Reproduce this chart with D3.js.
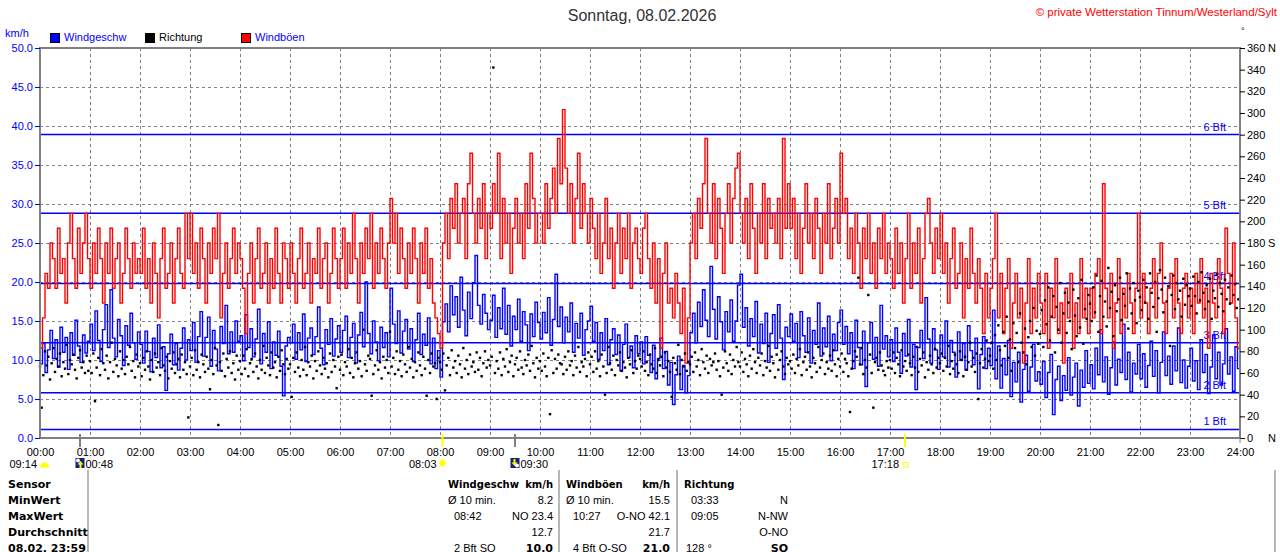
<!DOCTYPE html>
<html>
<head>
<meta charset="utf-8">
<script src="https://cdn.jsdelivr.net/npm/d3@7"></script>
<style>
  body { margin: 0; background: #fff; }
  text { font-family: "Liberation Sans", Arial, sans-serif; }
  .bold { font-family: "DejaVu Sans", sans-serif; font-weight: bold; }
</style>
</head>
<body>
<svg id="chart" width="1280" height="552"></svg>
<script>
// values
var titleText = "Sonntag, 08.02.2026";
var copyrightText = "\u00a9 private Wetterstation Tinnum/Westerland/Sylt";
var hourLabels = ["00:00","01:00","02:00","03:00","04:00","05:00","06:00","07:00","08:00","09:00","10:00","11:00",
                  "12:00","13:00","14:00","15:00","16:00","17:00","18:00","19:00","20:00","21:00","22:00","23:00","24:00"];
var kmhTicks = [0,5,10,15,20,25,30,35,40,45,50];
var dirTicks = [0,20,40,60,80,100,120,140,160,180,200,220,240,260,280,300,320,340,360];
var dirLetterTicks = [0,180,360];
var dirLetters = ["N","S","N"];
var bftLimits = [1.1,5.8,12.2,19.8,28.8,38.9];
var bftNames = ["1 Bft","2 Bft","3 Bft","4 Bft","5 Bft","6 Bft"];
var legendNames = ["Windgeschw","Richtung","Windb\u00f6en"];

// one value every 3 minutes (20 per hour), last one at 24:00
var gustStep = 3;
var gustKmh = [
 11.5,15.4,21.1,19.2,25.0,23.0,19.2,26.9,21.1,23.0,17.3,25.0,28.8,23.0,19.2,26.9,21.1,25.0,28.8,23.0,
 19.2,25.0,21.1,26.9,23.0,17.3,25.0,21.1,26.9,19.2,23.0,25.0,17.3,21.1,26.9,23.0,19.2,25.0,21.1,23.0,
 21.1,26.9,19.2,23.0,17.3,25.0,21.1,15.4,23.0,26.9,19.2,21.1,25.0,17.3,23.0,26.9,21.1,19.2,28.8,23.0,
 28.8,21.1,25.0,19.2,26.9,23.0,17.3,25.0,21.1,26.9,23.0,28.8,15.4,21.1,25.0,19.2,23.0,26.9,21.1,25.0,
 23.0,19.2,13.4,21.1,25.0,17.3,23.0,26.9,19.2,21.1,25.0,17.3,23.0,19.2,26.9,21.1,17.3,25.0,23.0,19.2,
 25.0,21.1,17.3,23.0,26.9,19.2,21.1,25.0,17.3,23.0,21.1,26.9,19.2,23.0,25.0,17.3,21.1,26.9,23.0,19.2,
 23.0,26.9,19.2,25.0,21.1,28.8,23.0,17.3,25.0,21.1,26.9,23.0,28.8,19.2,25.0,21.1,26.9,23.0,19.2,25.0,
 30.7,25.0,28.8,21.1,26.9,23.0,19.2,25.0,21.1,26.9,23.0,17.3,25.0,21.1,26.9,19.2,23.0,17.3,15.4,13.4,
 11.5,25.0,28.8,23.0,30.7,26.9,32.6,25.0,28.8,30.7,23.0,32.6,36.5,28.8,25.0,30.7,26.9,32.6,23.0,28.8,
 26.9,32.6,28.8,36.5,23.0,30.7,25.0,28.8,21.1,26.9,30.7,25.0,28.8,23.0,32.6,26.9,36.5,30.7,25.0,28.8,
 28.8,25.0,32.6,26.9,30.7,34.6,28.8,38.4,32.6,42.1,34.6,28.8,32.6,25.0,30.7,36.5,26.9,32.6,28.8,25.0,
 30.7,26.9,23.0,28.8,21.1,25.0,30.7,23.0,26.9,19.2,25.0,28.8,21.1,26.9,23.0,28.8,19.2,25.0,26.9,23.0,
 21.1,26.9,28.8,23.0,19.2,25.0,17.3,23.0,11.5,21.1,25.0,17.3,19.2,15.4,21.1,17.3,13.4,19.2,9.6,15.4,
 25.0,28.8,23.0,30.7,26.9,32.6,38.4,28.8,25.0,32.6,23.0,30.7,26.9,21.1,28.8,32.6,25.0,30.7,34.6,36.5,
 28.8,25.0,30.7,23.0,32.6,26.9,21.1,28.8,25.0,32.6,23.0,30.7,26.9,28.8,25.0,30.7,23.0,38.4,26.9,32.6,
 26.9,30.7,23.0,28.8,21.1,26.9,32.6,25.0,28.8,23.0,30.7,26.9,21.1,28.8,25.0,32.6,23.0,26.9,30.7,25.0,
 36.5,28.8,30.7,23.0,26.9,21.1,28.8,25.0,19.2,26.9,23.0,28.8,21.1,25.0,19.2,26.9,23.0,28.8,21.1,25.0,
 23.0,19.2,26.9,21.1,25.0,17.3,23.0,28.8,19.2,25.0,21.1,26.9,17.3,23.0,28.8,30.7,25.0,21.1,26.9,23.0,
 28.8,21.1,25.0,17.3,23.0,26.9,19.2,21.1,25.0,15.4,23.0,19.2,26.9,21.1,17.3,23.0,19.2,13.4,21.1,15.4,
 19.2,23.0,28.8,15.4,21.1,13.4,19.2,23.0,11.5,17.3,21.1,15.4,19.2,9.6,17.3,23.0,13.4,19.2,15.4,21.1,
 17.3,13.4,21.1,11.5,19.2,15.4,23.0,13.4,17.3,9.6,19.2,15.4,21.1,11.5,17.3,13.4,23.0,15.4,19.2,13.4,
 19.2,15.4,21.1,23.0,13.4,32.6,19.2,15.4,21.1,11.5,17.3,23.0,13.4,19.2,15.4,21.1,17.3,13.4,19.2,28.8,
 15.4,21.1,17.3,13.4,19.2,23.0,15.4,21.1,25.0,17.3,13.4,19.2,21.1,15.4,23.0,17.3,13.4,19.2,21.1,15.4,
 19.2,13.4,21.1,17.3,23.0,15.4,19.2,11.5,21.1,17.3,15.4,23.0,19.2,13.4,26.9,21.1,17.3,25.0,15.4,11.5,
 13.4
];

var windStep = 3;
var windKmh = [
 9.5,12.1,8.4,11.3,13.8,10.2,12.6,9.1,14.2,11.0,12.9,8.8,13.5,10.6,15.1,11.8,9.7,13.2,10.9,12.4,
 14.6,11.2,16.3,12.5,9.8,13.9,17.1,11.6,19.0,12.8,10.4,15.2,13.1,9.3,14.4,11.9,16.0,12.2,10.1,13.6,
 12.0,9.6,13.7,11.1,8.5,12.8,10.3,14.5,9.0,11.7,6.1,10.8,13.3,9.4,12.1,8.7,11.5,14.1,10.0,12.6,
 11.2,14.8,9.7,13.0,16.2,10.5,12.9,15.5,9.2,13.8,11.4,8.6,14.3,12.1,17.0,10.8,13.6,11.0,15.0,12.4,
 13.1,9.9,15.8,11.6,14.0,10.4,12.7,16.5,9.5,13.4,11.0,14.9,8.9,12.3,10.6,13.7,9.2,5.4,11.8,12.9,
 12.2,14.6,10.1,13.5,11.3,15.9,9.8,12.8,14.1,10.7,13.0,16.8,11.5,9.4,13.9,12.0,15.3,10.5,12.7,14.4,
 11.0,13.8,15.6,10.3,12.9,14.7,9.6,13.2,16.1,11.7,20.0,13.4,10.8,15.0,12.3,9.9,14.2,11.6,13.5,10.4,
 19.2,14.6,12.1,16.3,10.9,13.7,15.2,11.4,14.0,9.8,12.6,16.0,10.7,13.3,11.9,15.4,9.5,12.8,8.9,11.2,
 7.8,14.9,17.2,13.6,19.5,15.8,18.1,14.2,20.6,16.4,13.1,18.7,15.3,19.9,23.4,17.0,14.6,18.4,16.0,13.9,
 15.1,18.3,12.9,16.7,14.0,19.2,13.3,17.0,11.8,15.6,13.9,17.8,12.4,16.2,14.5,11.2,15.9,13.0,17.4,14.8,
 12.7,16.1,13.5,18.0,11.9,15.2,21.0,14.3,16.8,12.2,15.5,13.6,17.3,11.0,14.7,12.8,16.0,10.6,13.9,15.0,
 16.9,12.4,14.8,10.1,13.5,11.2,15.3,9.4,12.6,14.0,10.7,13.2,8.6,12.0,14.6,10.3,11.8,9.0,13.1,10.8,
 12.3,9.5,13.0,10.6,8.4,11.9,7.6,10.2,12.8,8.9,11.1,6.8,9.7,4.3,8.1,10.5,6.2,9.3,5.8,8.0,
 13.5,16.0,12.2,17.4,14.3,19.0,15.1,13.0,22.0,16.5,12.7,18.1,14.9,11.3,16.2,13.6,17.7,12.4,15.0,19.6,
 21.0,14.2,16.7,11.8,15.3,13.0,17.5,10.9,14.6,12.1,16.0,9.7,13.4,15.8,11.5,17.1,12.8,7.5,14.2,13.0,
 15.9,12.4,14.7,10.3,16.2,13.1,11.0,15.4,9.6,13.8,12.0,17.3,10.5,14.1,11.7,15.6,9.9,13.3,11.2,14.8,
 16.4,12.0,14.3,10.8,13.5,8.9,15.1,11.6,9.4,13.7,6.6,12.2,14.8,10.1,12.9,9.2,17.0,11.4,13.1,10.4,
 12.6,9.8,14.1,11.0,8.3,13.4,10.5,15.2,9.1,12.0,6.2,11.6,13.8,10.2,18.0,12.7,9.6,14.0,11.3,8.8,
 13.2,10.4,15.0,9.1,12.5,11.0,7.8,13.6,10.0,12.1,8.7,14.4,11.2,9.4,12.8,6.3,10.7,13.0,8.9,11.5,
 9.3,16.4,7.6,11.8,6.4,10.2,8.1,12.5,5.3,9.7,7.2,11.0,4.6,8.8,10.6,6.0,9.1,12.0,7.3,8.5,
 6.9,9.8,5.2,8.4,10.7,3.0,7.5,9.2,4.8,8.0,6.1,10.3,5.5,7.8,9.6,4.1,8.7,6.5,11.2,7.0,
 9.4,6.3,11.5,8.1,13.9,7.2,10.4,5.6,9.0,12.3,6.8,10.1,8.4,14.6,7.5,11.0,5.9,9.6,8.2,12.0,
 7.6,10.8,6.5,9.3,12.4,7.9,11.2,5.8,9.7,13.6,8.0,10.5,6.9,11.8,8.6,14.1,7.1,10.0,6.4,9.2,
 11.5,7.3,9.9,6.2,12.6,8.4,10.7,5.7,9.1,13.2,7.6,11.0,6.8,9.5,14.0,8.2,10.4,6.0,11.7,8.9,
 4.5
];

// wind direction, one dot every 2 minutes (30 per hour)
var dirStep = 2;
var dirDeg = [
 66,28,58,80,67,75,54,69,83,61,73,66,78,57,70,64,86,59,72,68,77,63,55,74,81,65,70,60,76,62,
 71,60,78,34,65,74,58,82,69,63,76,55,70,88,61,73,67,57,80,64,72,59,75,68,84,62,71,56,77,66,
 69,57,74,63,80,66,54,72,61,78,65,70,58,83,67,62,75,55,71,64,79,60,68,73,56,77,63,70,59,19,
 66,74,58,81,63,70,56,77,68,61,75,64,45,72,59,83,67,12,70,62,78,57,73,65,80,60,69,54,76,63,
 71,59,76,64,82,57,69,73,61,78,66,55,72,63,85,60,74,67,58,79,65,70,56,75,62,81,68,59,73,64,
 68,38,74,61,79,65,57,72,63,84,58,70,66,76,55,71,62,80,67,59,74,64,69,56,78,61,72,66,46,75,
 63,77,58,70,66,82,60,74,56,69,79,64,71,57,100,68,62,76,73,39,59,67,81,63,70,55,75,65,72,60,
 98,66,74,59,80,63,71,57,77,68,61,84,65,73,56,70,62,79,67,58,75,64,39,72,60,78,66,69,36,74,
 70,63,78,44,67,74,58,81,65,71,60,76,68,56,83,64,72,59,77,66,70,61,79,63,74,57,69,80,65,72,
 67,75,342,60,71,64,79,58,73,66,82,61,70,76,57,68,74,63,80,65,59,72,67,77,62,85,69,56,74,64,
 71,62,78,66,57,74,22,81,60,73,64,77,69,68,59,75,63,80,67,71,58,76,65,84,61,70,66,73,57,79,
 68,75,61,80,64,71,57,77,66,40,60,84,69,63,76,58,72,67,79,62,70,65,56,74,68,81,60,71,64,76,
 73,66,80,62,70,58,77,68,64,83,60,72,67,75,57,79,65,71,61,38,74,69,63,86,59,72,66,78,62,70,
 68,75,61,79,66,72,58,82,70,64,76,60,73,67,70,78,63,71,57,40,65,80,69,62,77,59,72,66,84,70,
 66,79,61,73,68,57,76,64,82,70,60,74,67,78,58,71,65,85,62,75,69,56,77,63,72,80,66,59,74,68,
 71,64,77,60,73,67,82,58,70,75,63,79,66,56,74,69,61,84,65,72,78,59,70,64,76,62,81,68,57,73,
 66,78,61,73,69,57,24,64,71,80,75,148,68,83,59,72,65,132,77,60,28,70,74,63,79,67,62,58,71,65,
 72,64,79,60,74,68,57,81,66,71,62,77,69,58,75,65,84,61,73,67,79,56,70,63,76,68,60,82,65,74,
 69,78,62,74,66,85,59,71,64,77,68,60,80,72,57,75,63,70,88,66,74,61,78,36,69,82,65,73,90,71,
 76,88,64,95,72,104,81,67,98,85,112,74,91,62,106,83,97,70,115,88,79,101,68,93,108,84,120,76,99,87,
 96,118,84,127,105,139,90,112,131,79,121,100,143,88,115,134,97,125,108,82,137,113,94,129,102,146,87,119,110,132,
 124,108,139,116,150,98,131,145,112,126,103,157,120,135,94,141,117,128,148,109,133,122,152,101,138,115,143,127,106,136,
 130,118,146,125,139,110,152,134,121,144,98,129,155,137,116,148,126,140,85,132,150,119,143,128,136,112,147,123,141,131,
 138,122,149,131,115,144,127,153,134,119,141,126,147,110,136,129,151,121,143,133,117,146,128,139,124,150,132,142,120,128
];

// sun / moon times under the axis (minutes of the day)
var eventLabels = ["00:48","08:03","09:30","17:18"];
var eventMinutes = [48,483,570,1038];
var eventKinds = ["moonrise","sunrise","moonset","sunset"];
var dayLength = "09:14";

// statistics table
var tableRowNames = ["Sensor","MinWert","MaxWert","Durchschnitt","08.02. 23:59"];
var windHead = ["Windgeschw","km/h"];
var windLeft = ["\u00d8 10 min.","08:42","","2 Bft SO"];
var windRight = ["8.2","NO 23.4","12.7","10.0"];
var gustHead = ["Windb\u00f6en","km/h"];
var gustLeft = ["\u00d8 10 min.","10:27","","4 Bft O-SO"];
var gustRight = ["15.5","O-NO 42.1","21.7","21.0"];
var dirHead = ["Richtung",""];
var dirLeft = ["03:33","09:05","","128 \u00b0"];
var dirRight = ["N","N-NW","O-NO","SO"];

var BLUE = "#0000ff", RED = "#ff0000", GREY = "#808080";

document.addEventListener('DOMContentLoaded', function () {
  var svg = d3.select("#chart");
  var x = d3.scaleLinear().domain([0, 1440]).range([40, 1240]);
  var y = d3.scaleLinear().domain([0, 50]).range([438, 48]);
  var yDir = d3.scaleLinear().domain([0, 360]).range([438, 48]);
  var hourMinutes = hourLabels.map(function (d, i) { return i * 60; });

  // header
  svg.append("text").attr("x", 642).attr("y", 21).attr("text-anchor", "middle")
     .style("font-size", "16px").attr("fill", "#333").text(titleText);
  svg.append("text").attr("x", 1277).attr("y", 16).attr("text-anchor", "end")
     .style("font-size", "11.5px").attr("fill", RED).text(copyrightText);
  svg.append("text").attr("x", 1241).attr("y", 34).style("font-size", "9px").attr("fill", "#000").text("\u00b0");

  // legend
  svg.append("text").attr("x", 5).attr("y", 37).style("font-size", "11px").attr("fill", BLUE).text("km/h");
  var legX = [50, 145, 241], legFill = [BLUE, "#000", RED], legText = [BLUE, "#000", BLUE];
  legendNames.forEach(function (name, i) {
    svg.append("rect").attr("x", legX[i] + 0.5).attr("y", 33.5).attr("width", 9).attr("height", 9)
       .attr("fill", legFill[i]).attr("stroke", "#000").attr("stroke-width", 1);
    svg.append("text").attr("x", legX[i] + 14).attr("y", 41).style("font-size", "11px")
       .attr("fill", legText[i]).text(name);
  });

  // grid
  var grid = svg.append("g").attr("stroke", GREY).attr("stroke-width", 1).attr("stroke-dasharray", "3,3");
  grid.selectAll(".vg").data(hourMinutes.slice(1, 24)).enter().append("line")
      .attr("x1", function (d) { return Math.round(x(d)) + 0.5; })
      .attr("x2", function (d) { return Math.round(x(d)) + 0.5; })
      .attr("y1", 48).attr("y2", 438);
  grid.selectAll(".hg").data(kmhTicks.slice(1, 10)).enter().append("line")
      .attr("y1", function (d) { return Math.round(y(d)) + 0.5; })
      .attr("y2", function (d) { return Math.round(y(d)) + 0.5; })
      .attr("x1", 40).attr("x2", 1240);

  // Beaufort lines
  var bft = svg.append("g");
  bft.selectAll("line").data(bftLimits).enter().append("line")
     .attr("x1", 40).attr("x2", 1240)
     .attr("y1", function (d) { return y(d); }).attr("y2", function (d) { return y(d); })
     .attr("stroke", BLUE).attr("stroke-width", 1.5);
  bft.selectAll("text").data(bftLimits).enter().append("text")
     .attr("x", 1226).attr("y", function (d) { return y(d) - 4; })
     .attr("text-anchor", "end").style("font-size", "11px").attr("fill", BLUE)
     .text(function (d, i) { return bftNames[i]; });

  // series
  var windPts = windKmh.map(function (v, i) { return { t: i * windStep, v: v }; });
  var gustPts = gustKmh.map(function (v, i) { return { t: i * gustStep, v: v }; });
  var line = d3.line().x(function (d) { return x(d.t); }).y(function (d) { return y(d.v); })
               .curve(d3.curveStepAfter);
  svg.append("path").datum(windPts).attr("d", line).attr("fill", "none")
     .attr("stroke", BLUE).attr("stroke-width", 1.4);
  svg.append("path").datum(gustPts).attr("d", line).attr("fill", "none")
     .attr("stroke", RED).attr("stroke-width", 1.4);
  svg.append("g").selectAll("rect").data(dirDeg).enter().append("rect")
     .attr("x", function (d, i) { return x(i * dirStep) - 1.2; })
     .attr("y", function (d) { return yDir(d) - 1.2; })
     .attr("width", 2.4).attr("height", 2.4).attr("fill", "#000");

  // frame
  svg.append("rect").attr("x", 40).attr("y", 48).attr("width", 1200).attr("height", 390)
     .attr("fill", "none").attr("stroke", GREY).attr("stroke-width", 2);

  // axes
  var yAxisL = svg.append("g").attr("transform", "translate(40,0)")
     .call(d3.axisLeft(y).tickValues(kmhTicks).tickFormat(d3.format(".1f")).tickSize(5).tickPadding(2));
  yAxisL.attr("color", BLUE).style("font-family", "Liberation Sans, Arial, sans-serif").style("font-size", "11px");
  yAxisL.select(".domain").remove();

  var yAxisR = svg.append("g").attr("transform", "translate(1240,0)")
     .call(d3.axisRight(yDir).tickValues(dirTicks).tickSize(5).tickPadding(2));
  yAxisR.attr("color", "#000").style("font-family", "Liberation Sans, Arial, sans-serif").style("font-size", "11px");
  yAxisR.select(".domain").remove();
  svg.append("g").selectAll("text").data(dirLetterTicks).enter().append("text")
     .attr("x", 1268).attr("y", function (d) { return yDir(d) + 4; })
     .style("font-size", "11px").attr("fill", "#000")
     .text(function (d, i) { return dirLetters[i]; });

  var xAxis = svg.append("g").attr("transform", "translate(0,438)")
     .call(d3.axisBottom(x).tickValues(hourMinutes)
       .tickFormat(function (d, i) { return hourLabels[i]; }).tickSize(0).tickPadding(10));
  xAxis.attr("color", "#000").style("font-family", "Liberation Sans, Arial, sans-serif").style("font-size", "11px");
  xAxis.select(".domain").remove();
  svg.append("line").attr("x1", x(1440)).attr("x2", x(1440)).attr("y1", 438).attr("y2", 443)
     .attr("stroke", GREY).attr("stroke-width", 1);

  // sun and moon markers
  var ev = svg.append("g");
  eventMinutes.forEach(function (m, i) {
    var px = x(m), kind = eventKinds[i];
    var sun = kind === "sunrise" || kind === "sunset";
    ev.append("line").attr("x1", px).attr("x2", px).attr("y1", 434).attr("y2", 447)
      .attr("stroke", sun ? "#ffff00" : GREY).attr("stroke-width", 2);
    if (kind === "moonrise" || kind === "moonset") {
      var ix = px - 4.5;
      ev.append("rect").attr("x", ix).attr("y", 458).attr("width", 9).attr("height", 10).attr("fill", "#102080");
      if (kind === "moonrise") {
        ev.append("circle").attr("cx", ix + 2.5).attr("cy", 460.5).attr("r", 2).attr("fill", "#fff");
        ev.append("path").attr("d", "M" + (ix + 5) + ",461 l3,3.5 h-2 v3.5 h-2 v-3.5 h-2 z").attr("fill", "#ffff00");
      } else {
        ev.append("circle").attr("cx", ix + 6.5).attr("cy", 465.5).attr("r", 2).attr("fill", "#fff");
        ev.append("path").attr("d", "M" + (ix + 4) + ",466 l-3,-3.5 h2 v-3.5 h2 v3.5 h2 z").attr("fill", "#ffff00");
      }
      ev.append("text").attr("x", px + 5.5).attr("y", 468).style("font-size", "11px").attr("fill", "#000").text(eventLabels[i]);
    } else if (kind === "sunrise") {
      var cx = px, cy = 463;
      ev.append("g").attr("stroke", "#ffff80").attr("stroke-width", 1).selectAll("line")
        .data(d3.range(8)).enter().append("line")
        .attr("x1", function (k) { return cx + 3 * Math.cos(k * Math.PI / 4); })
        .attr("y1", function (k) { return cy + 3 * Math.sin(k * Math.PI / 4); })
        .attr("x2", function (k) { return cx + 5 * Math.cos(k * Math.PI / 4); })
        .attr("y2", function (k) { return cy + 5 * Math.sin(k * Math.PI / 4); });
      ev.append("circle").attr("cx", cx).attr("cy", cy).attr("r", 3).attr("fill", "#ffff00");
      ev.append("text").attr("x", px - 6).attr("y", 468).attr("text-anchor", "end")
        .style("font-size", "11px").attr("fill", "#000").text(eventLabels[i]);
    } else {
      ev.append("rect").attr("x", px - 2).attr("y", 462.5).attr("width", 5).attr("height", 4.5)
        .attr("fill", "none").attr("stroke", "#ffff00").attr("stroke-width", 1);
      ev.append("text").attr("x", px - 6).attr("y", 468).attr("text-anchor", "end")
        .style("font-size", "11px").attr("fill", "#000").text(eventLabels[i]);
    }
  });
  ev.append("text").attr("x", 37).attr("y", 468).attr("text-anchor", "end")
    .style("font-size", "11px").attr("fill", "#000").text(dayLength);
  ev.append("path").attr("d", "M40,467.5 A4.5,5 0 0 1 49,467.5 Z").attr("fill", "#ffff00");

  // table
  var rowY = [488, 504, 520, 536, 552];
  svg.append("g").selectAll("line").data([88, 559, 677, 1275]).enter().append("line")
     .attr("x1", function (d) { return d; }).attr("x2", function (d) { return d; })
     .attr("y1", 470).attr("y2", 552).attr("stroke", "#a0a0a0").attr("stroke-width", 1.5);
  svg.append("g").selectAll("text").data(tableRowNames).enter().append("text")
     .attr("class", "bold").attr("x", 8).attr("y", function (d, i) { return rowY[i]; })
     .style("font-size", "11px").attr("fill", "#000").text(function (d) { return d; });

  var cols = [
    { head: windHead, left: windLeft, right: windRight, hx: 448, lx: [448, 454, 454, 454], rx: 553 },
    { head: gustHead, left: gustLeft, right: gustRight, hx: 566, lx: [566, 573, 573, 573], rx: 670 },
    { head: dirHead, left: dirLeft, right: dirRight, hx: 684, lx: [691, 691, 691, 686], rx: 788 }
  ];
  cols.forEach(function (c) {
    svg.append("text").attr("class", "bold").attr("x", c.hx).attr("y", rowY[0])
       .style("font-size", "10px").attr("fill", "#000").text(c.head[0]);
    svg.append("text").attr("class", "bold").attr("x", c.rx).attr("y", rowY[0]).attr("text-anchor", "end")
       .style("font-size", "10px").attr("fill", "#000").text(c.head[1]);
    c.left.forEach(function (t, i) {
      svg.append("text").attr("x", c.lx[i]).attr("y", rowY[i + 1])
         .style("font-size", "11px").attr("fill", "#000").text(t);
    });
    c.right.forEach(function (t, i) {
      svg.append("text").attr("class", i === 3 ? "bold" : null).attr("x", c.rx).attr("y", rowY[i + 1])
         .attr("text-anchor", "end").style("font-size", "11px").attr("fill", "#000").text(t);
    });
  });
});
</script>
</body>
</html>
